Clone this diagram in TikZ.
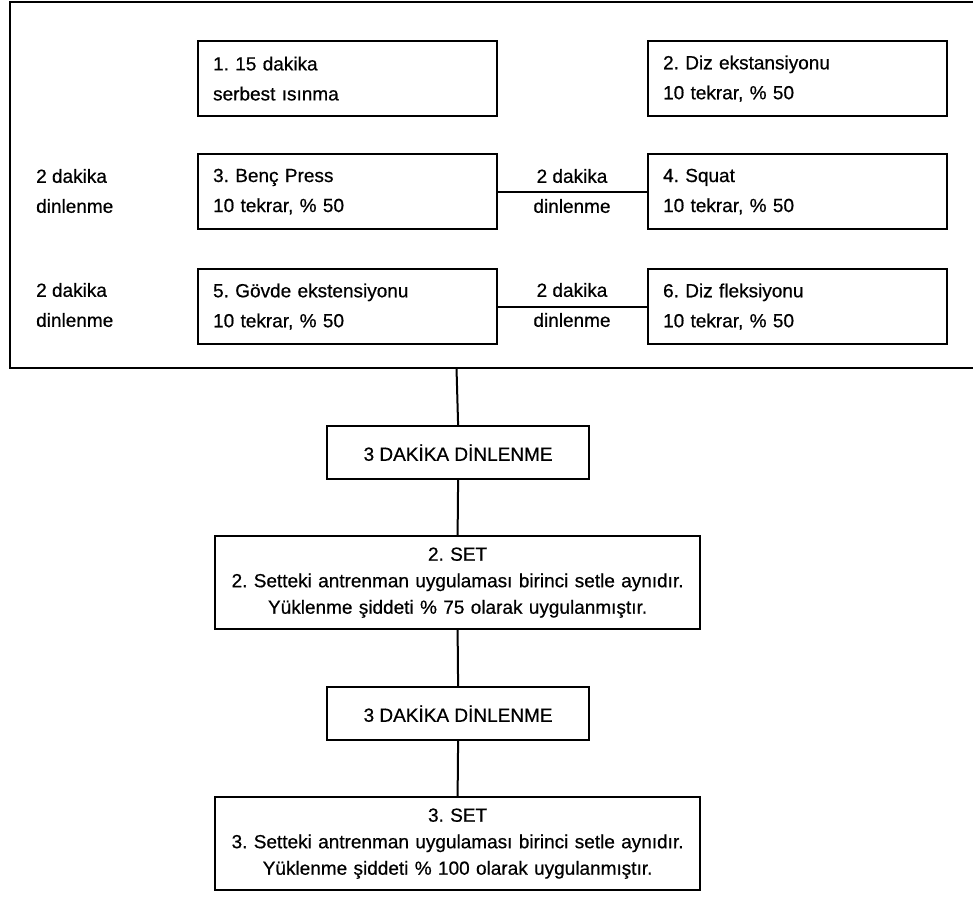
\documentclass[tikz,border=0pt]{standalone}
\usepackage{fontspec}
\setmainfont{Liberation Sans}[FakeBold=0.6]
\begin{document}
\frenchspacing
\begin{tikzpicture}[x=1pt,y=-1pt,
  every node/.style={font=\fontsize{19}{30}\selectfont},
  exbox/.style={draw,line width=2.2pt,minimum width=299pt,minimum height=75pt,
    text width=269pt,inner xsep=15pt,inner ysep=0pt,align=left,anchor=north west},
  restbox/.style={draw,line width=2.2pt,minimum width=262pt,minimum height=53pt,
    inner sep=0pt,anchor=north west},
  setbox/.style={draw,line width=2.2pt,minimum width=485pt,minimum height=93pt,
    text width=485pt,inner sep=0pt,align=center,anchor=north west,
    font=\fontsize{19}{26.5}\selectfont},
  lbl/.style={align=left,anchor=west,inner sep=0pt},
  mlbl/.style={align=center,inner sep=0pt},
  conn/.style={line width=2pt}]
\useasboundingbox (0,0) rectangle (973,910);
% outer frame (right side runs off the page)
\draw[line width=2.2pt] (990,2) -- (10,2) -- (10,368) -- (990,368);
\coordinate (fb) at (456.5,368);
% exercise boxes
\node[exbox] (b1) at (197,40) {1. 15 dakika\\serbest ısınma};
\node[exbox] (b2) at (647,40) {2. Diz ekstansiyonu\\10 tekrar, \% 50};
\node[exbox] (b3) at (197,153) {3. Benç Press\\10 tekrar, \% 50};
\node[exbox] (b4) at (647,153) {4. Squat\\10 tekrar, \% 50};
\node[exbox] (b5) at (197,268) {5. Gövde ekstensiyonu\\10 tekrar, \% 50};
\node[exbox] (b6) at (647,268) {6. Diz fleksiyonu\\10 tekrar, \% 50};
% rest labels
\node[lbl] (l1) at (36,191) {2 dakika\\dinlenme};
\node[lbl] (l2) at (36,305) {2 dakika\\dinlenme};
\node[mlbl] (m1) at (572,191) {2 dakika\\dinlenme};
\node[mlbl] (m2) at (572,305) {2 dakika\\dinlenme};
\draw[conn] (b3.east) -- (b4.west);
\draw[conn] (b5.east) -- (b6.west);
% lower chain
\node[restbox] (d1) at (326,425) {3 DAKİKA DİNLENME};
\node[setbox] (s2) at (214,535) {2. SET\\2. Setteki antrenman uygulaması birinci setle aynıdır.\\Yüklenme şiddeti \% 75 olarak uygulanmıştır.};
\node[restbox] (d2) at (326,686) {3 DAKİKA DİNLENME};
\node[setbox] (s3) at (214,796) {3. SET\\3. Setteki antrenman uygulaması birinci setle aynıdır.\\Yüklenme şiddeti \% 100 olarak uygulanmıştır.};
\draw[conn] (fb) -- (d1.north);
\draw[conn] (d1.south) -- (s2.north);
\draw[conn] (s2.south) -- (d2.north);
\draw[conn] (d2.south) -- (s3.north);
\end{tikzpicture}
\end{document}
